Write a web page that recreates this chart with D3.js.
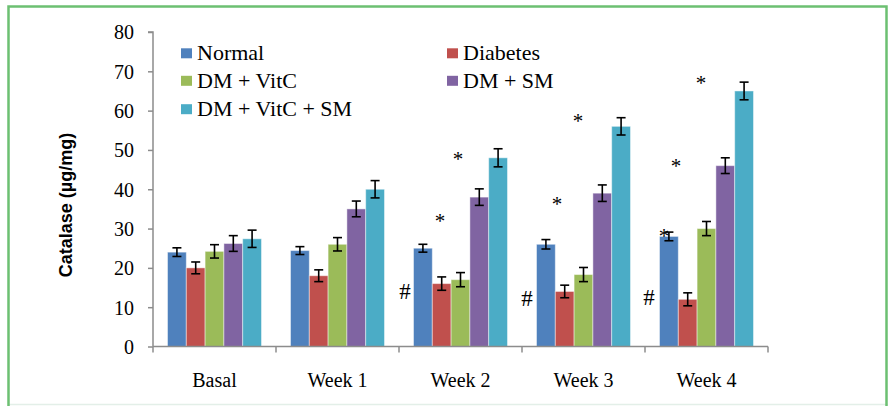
<!DOCTYPE html>
<html>
<head>
<meta charset="utf-8">
<script src="https://cdn.jsdelivr.net/npm/d3@7/dist/d3.min.js"></script>
<style>
  html, body { margin: 0; padding: 0; background: #fff; }
  svg { display: block; }
</style>
</head>
<body>
<svg id="chart" width="888" height="406"></svg>
<script>
// Catalase activity (µg/mg) per group over the study period
const categories = ["Basal", "Week 1", "Week 2", "Week 3", "Week 4"];
const seriesNames = ["Normal", "Diabetes", "DM + VitC", "DM + SM", "DM + VitC + SM"];

const normal      = [24.0, 24.4, 25.0, 26.0, 28.0];
const diabetes    = [20.0, 18.0, 16.0, 14.0, 12.0];
const dmVitC      = [24.2, 26.0, 17.0, 18.3, 30.0];
const dmSM        = [26.2, 35.0, 38.0, 39.0, 46.0];
const dmVitCSM    = [27.4, 40.0, 48.0, 56.0, 65.0];

const normalErr   = [1.1, 1.0, 1.0, 1.2, 1.1];
const diabetesErr = [1.5, 1.5, 1.7, 1.6, 1.65];
const dmVitCErr   = [1.7, 1.7, 1.8, 1.8, 1.8];
const dmSMErr     = [2.0, 2.0, 2.1, 2.1, 2.0];
const dmVitCSMErr = [2.2, 2.2, 2.3, 2.2, 2.25];

const yTicks = [0, 10, 20, 30, 40, 50, 60, 70, 80];

// Significance marks: category, symbol, level on the value axis, bar slot
const marks = [
  { cat: "Week 2", sym: "*", level: 32.7, slot: 0.91 },
  { cat: "Week 2", sym: "*", level: 48.7, slot: 1.87 },
  { cat: "Week 2", sym: "#", level: 14.1, slot: -0.95 },
  { cat: "Week 3", sym: "*", level: 37.2, slot: 0.59 },
  { cat: "Week 3", sym: "*", level: 58.3, slot: 1.71 },
  { cat: "Week 3", sym: "#", level: 12.3, slot: -1.0 },
  { cat: "Week 4", sym: "*", level: 28.9, slot: -0.26 },
  { cat: "Week 4", sym: "*", level: 46.7, slot: 0.38 },
  { cat: "Week 4", sym: "*", level: 67.8, slot: 1.71 },
  { cat: "Week 4", sym: "#", level: 12.6, slot: -1.06 }
];

const seriesValues = [normal, diabetes, dmVitC, dmSM, dmVitCSM];
const seriesErrors = [normalErr, diabetesErr, dmVitCErr, dmSMErr, dmVitCSMErr];
const colors = ["#4F81BD", "#C0504D", "#9BBB59", "#8064A2", "#4BACC6"];

const serif = "'Liberation Serif', 'Times New Roman', serif";
const sans = "'Liberation Sans', Arial, sans-serif";

const svg = d3.select("#chart");

// outer frame
svg.append("line").attr("x1", 9).attr("x2", 888).attr("y1", 404.5).attr("y2", 404.5)
  .attr("stroke", "#e3efe8").attr("stroke-width", 1.5);
svg.append("path")
  .attr("d", "M8.5,406 V6.5 H886.5 V406")
  .attr("fill", "none").attr("stroke", "#6cc072").attr("stroke-width", 2.5);

const plot = { left: 153, right: 768, top: 32, bottom: 346.5 };

const x0 = d3.scaleBand().domain(categories)
  .range([plot.left, plot.right]).paddingInner(0.236).paddingOuter(0.118);
const x1 = d3.scaleBand().domain(d3.range(seriesNames.length))
  .range([0, x0.bandwidth()]);
const slotX = d3.scaleLinear().domain([-0.5, seriesNames.length - 0.5])
  .range([0, x0.bandwidth()]);
const y = d3.scaleLinear().domain([0, 80]).range([plot.bottom, plot.top]);

const axisColor = "#8c8c8c";

// bars
const rows = [];
categories.forEach((c, ci) => {
  seriesValues.forEach((vals, si) => {
    rows.push({ cat: c, si, v: vals[ci], e: seriesErrors[si][ci] });
  });
});

const g = svg.append("g");
g.selectAll("rect.bar").data(rows).join("rect")
  .attr("class", "bar")
  .attr("x", d => x0(d.cat) + x1(d.si))
  .attr("y", d => y(d.v))
  .attr("width", x1.bandwidth())
  .attr("height", d => y(0) - y(d.v))
  .attr("fill", d => colors[d.si])
  .attr("stroke", "rgba(255,255,255,0.45)")
  .attr("stroke-width", 1);

// error bars
const eb = g.selectAll("g.err").data(rows).join("g").attr("class", "err")
  .attr("stroke", "#000").attr("stroke-width", 1.6);
const cx = d => x0(d.cat) + x1(d.si) + x1.bandwidth() / 2;
eb.append("line").attr("x1", cx).attr("x2", cx)
  .attr("y1", d => y(d.v + d.e)).attr("y2", d => y(d.v - d.e));
eb.append("line").attr("x1", d => cx(d) - 4.5).attr("x2", d => cx(d) + 4.5)
  .attr("y1", d => y(d.v + d.e)).attr("y2", d => y(d.v + d.e));
eb.append("line").attr("x1", d => cx(d) - 4.5).attr("x2", d => cx(d) + 4.5)
  .attr("y1", d => y(d.v - d.e)).attr("y2", d => y(d.v - d.e));

// y axis
const yAxis = svg.append("g").attr("transform", `translate(${plot.left},0)`)
  .call(d3.axisLeft(y).tickValues(yTicks).tickSize(5).tickPadding(14).tickFormat(d3.format("d")));
yAxis.select(".domain").attr("stroke", axisColor).attr("stroke-width", 1.5)
  .attr("d", `M-5,${plot.top}H0V${plot.bottom}`);
yAxis.selectAll(".tick line").attr("stroke", axisColor).attr("stroke-width", 1.5);
yAxis.selectAll(".tick text").attr("font-family", serif).attr("font-size", 20)
  .attr("fill", "#000").attr("dy", "0.34em");

// x axis
const xAxis = svg.append("g").attr("transform", `translate(0,${plot.bottom})`);
xAxis.append("line").attr("x1", plot.left).attr("x2", plot.right)
  .attr("stroke", axisColor).attr("stroke-width", 1.5);
const boundaries = categories.map(c => x0(c) - x0.step() * 0.118).concat([plot.right]);
xAxis.selectAll("line.tk").data(boundaries).join("line").attr("class", "tk")
  .attr("x1", d => d).attr("x2", d => d).attr("y1", 0).attr("y2", 6)
  .attr("stroke", axisColor).attr("stroke-width", 1.5);
xAxis.selectAll("text").data(categories).join("text")
  .attr("x", c => x0(c) + x0.bandwidth() / 2)
  .attr("y", 40.5)
  .attr("text-anchor", "middle")
  .attr("font-family", serif).attr("font-size", 20).attr("fill", "#000")
  .text(c => c);

// y axis title
svg.append("text")
  .attr("transform", "translate(72,205) rotate(-90)")
  .attr("text-anchor", "middle")
  .attr("font-family", sans).attr("font-weight", "bold").attr("font-size", 18)
  .attr("fill", "#000")
  .text("Catalase (µg/mg)");

// legend
const legendPos = [
  { x: 181, y: 53.3 }, { x: 447, y: 53.3 },
  { x: 181, y: 80.8 }, { x: 447, y: 80.8 },
  { x: 181, y: 109.2 }
];
const lg = svg.append("g").selectAll("g").data(seriesNames).join("g")
  .attr("transform", (d, i) => `translate(${legendPos[i].x},${legendPos[i].y})`);
lg.append("rect").attr("x", 0).attr("y", -5).attr("width", 11).attr("height", 10)
  .attr("fill", (d, i) => colors[i]);
lg.append("text").attr("x", 16).attr("y", 7)
  .attr("font-family", serif).attr("font-size", 22).attr("fill", "#000")
  .text(d => d);

// significance symbols
svg.append("g").selectAll("text").data(marks).join("text")
  .attr("x", d => x0(d.cat) + slotX(d.slot))
  .attr("y", d => y(d.level))
  .attr("dy", d => d.sym === "*" ? "0.5em" : "0.34em")
  .attr("text-anchor", "middle")
  .attr("font-family", serif).attr("font-size", d => d.sym === "*" ? 21 : 23)
  .attr("fill", "#000")
  .text(d => d.sym);
</script>
</body>
</html>
